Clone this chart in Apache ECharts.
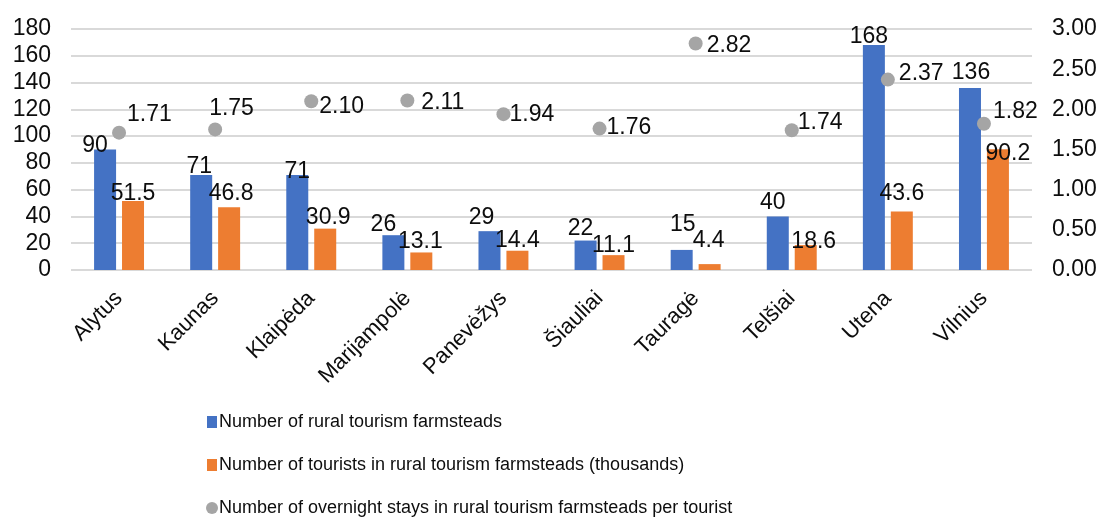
<!DOCTYPE html>
<html>
<head>
<meta charset="utf-8">
<script src="https://cdn.jsdelivr.net/npm/echarts@6/dist/echarts.min.js"></script>
<style>
  html, body { margin: 0; padding: 0; background: #fff; }
  #chart { width: 1103px; height: 519px; }
</style>
</head>
<body>
<div id="chart"></div>
<script>
// Rural tourism in Lithuanian counties
const counties = ['Alytus', 'Kaunas', 'Klaipėda', 'Marijampolė', 'Panevėžys', 'Šiauliai', 'Tauragė', 'Telšiai', 'Utena', 'Vilnius'];
const farmsteads = [90, 71, 71, 26, 29, 22, 15, 40, 168, 136];
const tourists = [51.5, 46.8, 30.9, 13.1, 14.4, 11.1, 4.4, 18.6, 43.6, 90.2];
const staysPerTourist = [1.71, 1.75, 2.10, 2.11, 1.94, 1.76, 2.82, 1.74, 2.37, 1.82];

const leftTicks = { min: 0, max: 180, step: 20 };
const rightTicks = { min: 0, max: 3, step: 0.5 };

const seriesNames = [
  'Number of rural tourism farmsteads',
  'Number of tourists in rural tourism farmsteads (thousands)',
  'Number of overnight stays in rural tourism farmsteads per tourist'
];

// hand-placed label nudges [dx, dy] so labels sit clear of neighbouring marks
const farmLabelNudge = [[-10, 8], [-2, 3], [0, 8], [-10, 1], [-8, -2], [-5, 0], [1, -14], [-5, -2], [-5, 3], [1, -4]];
const touristLabelNudge = [[0, 4], [2, -2], [3, 1], [-1, 1], [0, 1], [0, 2], [-1, -12], [8, 8], [0, -6], [10, 16]];
const stayLabelNudge = [[-4, -18], [-18, -21], [-4, 5], [2, 2], [-6, 1], [-5, -1], [-1, 2], [-6, -8], [-1, -6], [-3, -12]];

const FONT = '"Liberation Sans", Arial, sans-serif';
const TXT = '#0d0d0d';

// legend swatch: a 10x12 upright block (kept to aspect inside a 12x12 box)
const SWATCH = 'path://M0,0H10V12H0Z';

const withNudge = (values, nudges) => values.map((v, i) => ({
  value: v,
  label: { offset: nudges[i] }
}));

const chart = echarts.init(document.getElementById('chart'), null, { renderer: 'canvas' });

chart.setOption({
  animation: false,
  backgroundColor: '#ffffff',
  textStyle: { fontFamily: FONT, color: TXT },
  grid: { left: 71, right: 71, top: 29, bottom: 249, containLabel: false },
  legend: {
    orient: 'vertical',
    left: 206,
    top: 412,
    height: 107,
    padding: 0,
    itemGap: 23,
    itemWidth: 12,
    itemHeight: 12,
    symbolKeepAspect: true,
    textStyle: { fontFamily: FONT, fontSize: 18, color: TXT, lineHeight: 20, padding: [0, 0, 0, -4] },
    data: [
      { name: seriesNames[0], icon: SWATCH },
      { name: seriesNames[1], icon: SWATCH },
      { name: seriesNames[2], icon: 'circle' }
    ]
  },
  xAxis: {
    type: 'category',
    data: counties,
    boundaryGap: true,
    axisLine: { show: false },
    axisTick: { show: false },
    axisLabel: {
      rotate: 45,
      margin: 25,
      interval: 0,
      fontFamily: FONT,
      fontSize: 22,
      color: TXT
    }
  },
  yAxis: [
    {
      type: 'value',
      min: leftTicks.min,
      max: leftTicks.max,
      interval: leftTicks.step,
      axisLine: { show: false },
      axisTick: { show: false },
      axisLabel: { margin: 20, fontFamily: FONT, fontSize: 23, color: TXT },
      splitLine: { lineStyle: { color: '#d9d9d9', width: 2 } }
    },
    {
      type: 'value',
      min: rightTicks.min,
      max: rightTicks.max,
      interval: rightTicks.step,
      axisLine: { show: false },
      axisTick: { show: false },
      axisLabel: {
        margin: 20,
        fontFamily: FONT,
        fontSize: 23,
        color: TXT,
        formatter: v => v.toFixed(2)
      },
      splitLine: { show: false }
    }
  ],
  series: [
    {
      name: seriesNames[0],
      type: 'bar',
      yAxisIndex: 0,
      barWidth: 22,
      barGap: '27%',
      itemStyle: { color: '#4472c4' },
      label: {
        show: true,
        position: 'top',
        distance: 0,
        fontFamily: FONT,
        fontSize: 23,
        color: TXT,
        formatter: p => String(p.value)
      },
      data: withNudge(farmsteads, farmLabelNudge)
    },
    {
      name: seriesNames[1],
      type: 'bar',
      yAxisIndex: 0,
      barWidth: 22,
      itemStyle: { color: '#ed7d31' },
      label: {
        show: true,
        position: 'top',
        distance: 0,
        fontFamily: FONT,
        fontSize: 23,
        color: TXT,
        formatter: p => p.value.toFixed(1)
      },
      data: withNudge(tourists, touristLabelNudge)
    },
    {
      name: seriesNames[2],
      type: 'scatter',
      yAxisIndex: 1,
      symbol: 'circle',
      symbolSize: 14,
      itemStyle: { color: '#a5a5a5', opacity: 1 },
      label: {
        show: true,
        position: 'right',
        distance: 5,
        fontFamily: FONT,
        fontSize: 23,
        color: TXT,
        formatter: p => p.value.toFixed(2)
      },
      z: 5,
      data: withNudge(staysPerTourist, stayLabelNudge)
    }
  ]
});
</script>
</body>
</html>
